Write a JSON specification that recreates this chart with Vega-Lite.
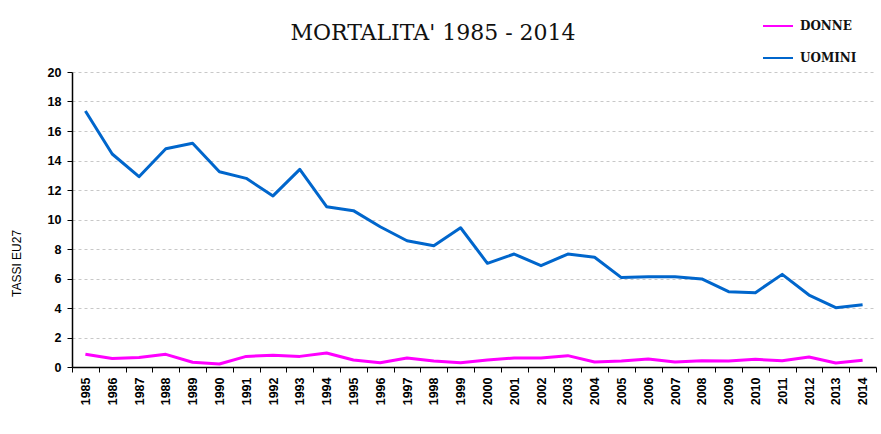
{
  "$schema": "https://vega.github.io/schema/vega-lite/v6.json",
  "width": 804,
  "height": 295,
  "autosize": {"type": "none"},
  "padding": {"left": 72, "top": 72, "right": 5, "bottom": 67},
  "background": "white",
  "title": {
    "text": "MORTALITA' 1985 - 2014",
    "font": "DejaVu Serif",
    "fontSize": 22,
    "fontWeight": "normal",
    "color": "#111111",
    "anchor": "middle",
    "dx": -41,
    "baseline": "alphabetic",
    "offset": -52
  },
  "data": {
    "values": [
      {"anno": "1985", "sesso": "DONNE", "tasso": 0.86}, {"anno": "1986", "sesso": "DONNE", "tasso": 0.57},
      {"anno": "1987", "sesso": "DONNE", "tasso": 0.64}, {"anno": "1988", "sesso": "DONNE", "tasso": 0.86},
      {"anno": "1989", "sesso": "DONNE", "tasso": 0.32}, {"anno": "1990", "sesso": "DONNE", "tasso": 0.2},
      {"anno": "1991", "sesso": "DONNE", "tasso": 0.72}, {"anno": "1992", "sesso": "DONNE", "tasso": 0.79},
      {"anno": "1993", "sesso": "DONNE", "tasso": 0.72}, {"anno": "1994", "sesso": "DONNE", "tasso": 0.95},
      {"anno": "1995", "sesso": "DONNE", "tasso": 0.47}, {"anno": "1996", "sesso": "DONNE", "tasso": 0.29},
      {"anno": "1997", "sesso": "DONNE", "tasso": 0.61}, {"anno": "1998", "sesso": "DONNE", "tasso": 0.41},
      {"anno": "1999", "sesso": "DONNE", "tasso": 0.29}, {"anno": "2000", "sesso": "DONNE", "tasso": 0.47},
      {"anno": "2001", "sesso": "DONNE", "tasso": 0.61}, {"anno": "2002", "sesso": "DONNE", "tasso": 0.61},
      {"anno": "2003", "sesso": "DONNE", "tasso": 0.77}, {"anno": "2004", "sesso": "DONNE", "tasso": 0.34},
      {"anno": "2005", "sesso": "DONNE", "tasso": 0.41}, {"anno": "2006", "sesso": "DONNE", "tasso": 0.54},
      {"anno": "2007", "sesso": "DONNE", "tasso": 0.34}, {"anno": "2008", "sesso": "DONNE", "tasso": 0.43},
      {"anno": "2009", "sesso": "DONNE", "tasso": 0.41}, {"anno": "2010", "sesso": "DONNE", "tasso": 0.52},
      {"anno": "2011", "sesso": "DONNE", "tasso": 0.43}, {"anno": "2012", "sesso": "DONNE", "tasso": 0.68},
      {"anno": "2013", "sesso": "DONNE", "tasso": 0.27}, {"anno": "2014", "sesso": "DONNE", "tasso": 0.45},
      {"anno": "1985", "sesso": "UOMINI", "tasso": 17.36}, {"anno": "1986", "sesso": "UOMINI", "tasso": 14.44},
      {"anno": "1987", "sesso": "UOMINI", "tasso": 12.9}, {"anno": "1988", "sesso": "UOMINI", "tasso": 14.8},
      {"anno": "1989", "sesso": "UOMINI", "tasso": 15.17}, {"anno": "1990", "sesso": "UOMINI", "tasso": 13.24},
      {"anno": "1991", "sesso": "UOMINI", "tasso": 12.79}, {"anno": "1992", "sesso": "UOMINI", "tasso": 11.6},
      {"anno": "1993", "sesso": "UOMINI", "tasso": 13.4}, {"anno": "1994", "sesso": "UOMINI", "tasso": 10.87},
      {"anno": "1995", "sesso": "UOMINI", "tasso": 10.6}, {"anno": "1996", "sesso": "UOMINI", "tasso": 9.51},
      {"anno": "1997", "sesso": "UOMINI", "tasso": 8.56}, {"anno": "1998", "sesso": "UOMINI", "tasso": 8.22},
      {"anno": "1999", "sesso": "UOMINI", "tasso": 9.44}, {"anno": "2000", "sesso": "UOMINI", "tasso": 7.03},
      {"anno": "2001", "sesso": "UOMINI", "tasso": 7.66}, {"anno": "2002", "sesso": "UOMINI", "tasso": 6.87},
      {"anno": "2003", "sesso": "UOMINI", "tasso": 7.66}, {"anno": "2004", "sesso": "UOMINI", "tasso": 7.44},
      {"anno": "2005", "sesso": "UOMINI", "tasso": 6.06}, {"anno": "2006", "sesso": "UOMINI", "tasso": 6.12},
      {"anno": "2007", "sesso": "UOMINI", "tasso": 6.12}, {"anno": "2008", "sesso": "UOMINI", "tasso": 5.97},
      {"anno": "2009", "sesso": "UOMINI", "tasso": 5.11}, {"anno": "2010", "sesso": "UOMINI", "tasso": 5.04},
      {"anno": "2011", "sesso": "UOMINI", "tasso": 6.28}, {"anno": "2012", "sesso": "UOMINI", "tasso": 4.88},
      {"anno": "2013", "sesso": "UOMINI", "tasso": 4.02}, {"anno": "2014", "sesso": "UOMINI", "tasso": 4.22}
    ]
  },
  "mark": {"type": "line", "strokeWidth": 3, "strokeJoin": "round"},
  "encoding": {
    "x": {
      "field": "anno",
      "type": "ordinal",
      "bandPosition": 0.5,
      "scale": {"type": "band", "paddingInner": 0, "paddingOuter": 0},
      "axis": {
        "title": null,
        "tickBand": "extent",
        "labelAngle": 270,
        "labelAlign": "right",
        "labelBaseline": "middle",
        "labelFont": "Liberation Sans",
        "labelFontWeight": "bold",
        "labelFontSize": 12.5,
        "labelColor": "#000000",
        "labelPadding": 5,
        "tickSize": 5,
        "tickColor": "#000000",
        "domainColor": "#000000",
        "domainWidth": 1.5,
        "grid": false
      }
    },
    "y": {
      "field": "tasso",
      "type": "quantitative",
      "scale": {"domain": [0, 20], "nice": false},
      "axis": {
        "values": [0, 2, 4, 6, 8, 10, 12, 14, 16, 18, 20],
        "title": "TASSI EU27",
        "titleFont": "Liberation Sans",
        "titleFontWeight": "normal",
        "titleFontSize": 12,
        "titleColor": "#000000",
        "titleAngle": 270,
        "titleX": -49,
        "titleY": 191,
        "titleAlign": "center",
        "titleBaseline": "bottom",
        "labelFont": "Liberation Sans",
        "labelFontWeight": "bold",
        "labelFontSize": 12.5,
        "labelColor": "#000000",
        "labelPadding": 6,
        "tickSize": 5,
        "tickColor": "#000000",
        "domainColor": "#000000",
        "domainWidth": 1.5,
        "grid": true,
        "gridDash": [3, 3],
        "gridColor": "#c8c8c8",
        "gridWidth": 1
      }
    },
    "color": {
      "field": "sesso",
      "type": "nominal",
      "scale": {"domain": ["DONNE", "UOMINI"], "range": ["#FF00FF", "#0066CC"]},
      "legend": {
        "title": null,
        "orient": "none",
        "legendX": 690,
        "legendY": -62,
        "padding": 0,
        "symbolType": "stroke",
        "symbolSize": 900,
        "symbolStrokeWidth": 2,
        "rowPadding": 10,
        "labelOffset": 6,
        "labelFont": "DejaVu Serif",
        "labelFontWeight": "bold",
        "labelFontSize": 12,
        "labelColor": "#111111"
      }
    }
  },
  "config": {
    "view": {"stroke": null}
  }
}
